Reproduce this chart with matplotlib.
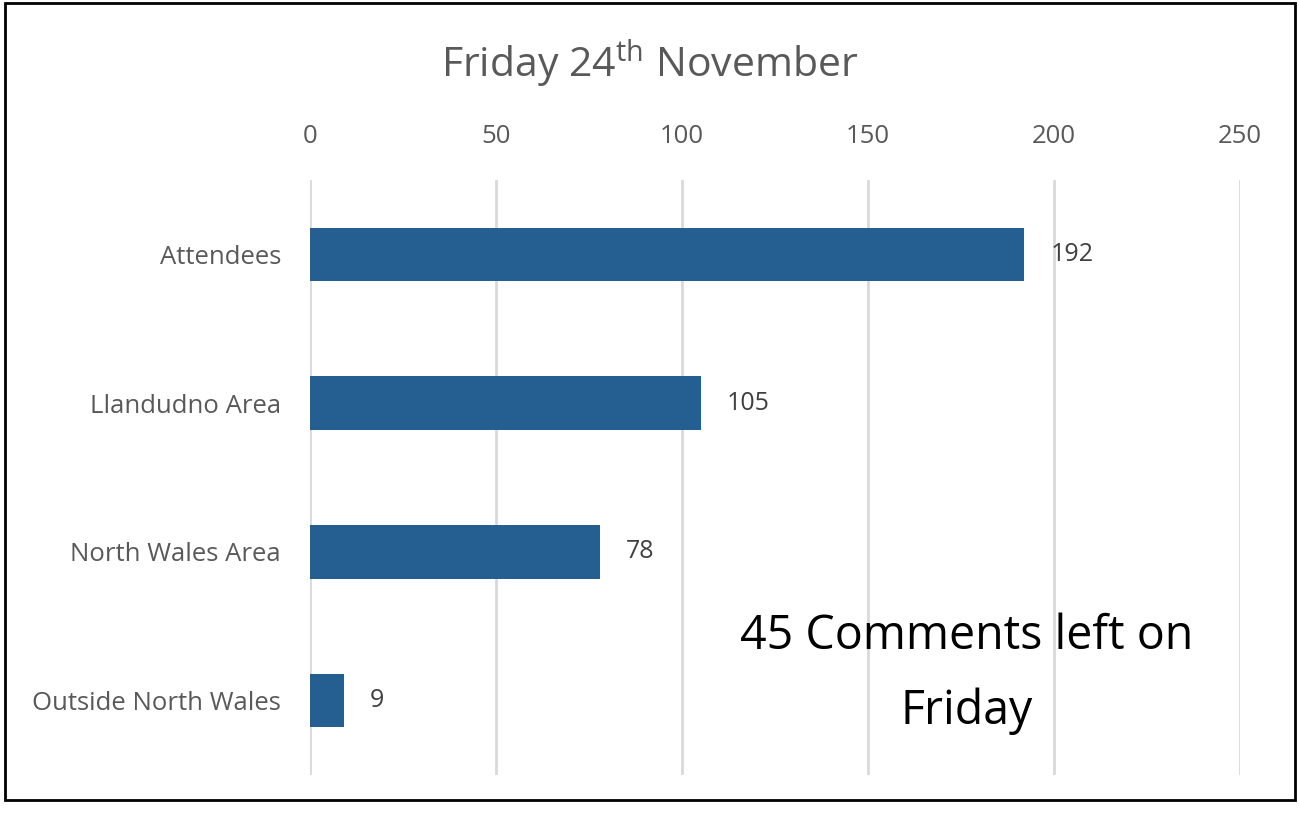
import matplotlib
matplotlib.use("Agg")
import matplotlib.pyplot as plt
from matplotlib.patches import Rectangle

plt.rcParams['font.family'] = ['Open Sans', 'DejaVu Sans']
plt.rcParams['mathtext.fontset'] = 'custom'
plt.rcParams['mathtext.rm'] = 'Open Sans'

categories = ["Attendees", "Llandudno Area", "North Wales Area", "Outside North Wales"]
values = [192, 105, 78, 9]
x_ticks = [0, 50, 100, 150, 200, 250]

bar_color = "#255E91"
grid_color = "#D9D9D9"
text_gray = "#595959"

fig = plt.figure(figsize=(12.99, 8.14), dpi=100)
ax = fig.add_axes([0.2387, 0.0479, 0.7159, 0.731])

pos = list(range(len(categories)))
ax.barh(pos, values, height=0.36, color=bar_color, zorder=3)
for p, v in zip(pos, values):
    ax.text(v + 7, p, str(v), va='center', ha='left', fontsize=18, color="#404040")

ax.set_xlim(0, 250)
ax.set_ylim(3.5, -0.5)
ax.set_xticks(x_ticks)
ax.xaxis.tick_top()
ax.tick_params(axis='x', length=0, pad=22, labelsize=18.5, labelcolor=text_gray)
ax.set_yticks(pos)
ax.set_yticklabels(categories)
ax.tick_params(axis='y', length=0, pad=21, labelsize=18.5, labelcolor=text_gray)
ax.grid(axis='x', color=grid_color, linewidth=2, zorder=0)
for s in ax.spines.values():
    s.set_visible(False)

fig.text(0.5, 0.922, r'Friday 24$^{\mathrm{th}}$ November', ha='center', va='center',
         fontsize=29.5, color=text_gray)
fig.text(0.744, 0.172, "45 Comments left on\nFriday", ha='center', va='center',
         fontsize=33.5, color='black', linespacing=1.75)

fig.patches.append(Rectangle((0.004, 0.017), 0.993, 0.979, transform=fig.transFigure,
                             fill=False, edgecolor='black', linewidth=2))

fig.savefig("out.png", dpi=100)
